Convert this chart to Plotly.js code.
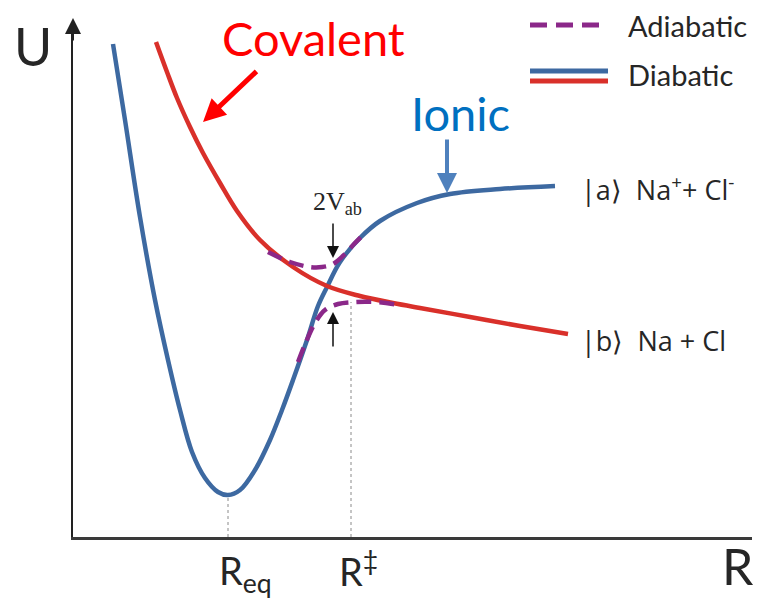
<!DOCTYPE html>
<html>
<head>
<meta charset="utf-8">
<script src="https://cdn.plot.ly/plotly-3.0.1.min.js"></script>
<style>
  html, body { margin: 0; padding: 0; background: #ffffff; }
  #chart { width: 759px; height: 599px; }
</style>
</head>
<body>
<div id="chart"></div>
<script>
// Potential energy curves for NaCl (schematic units: R along x, U along y)

// Ionic (diabatic |a>) curve
const ionicR = [0.40, 0.52, 0.67, 0.82, 0.95, 1.07, 1.19, 1.32, 1.45, 1.55, 1.67, 1.82, 1.97, 2.09, 2.20, 2.34, 2.45, 2.54, 2.67, 2.87, 3.07, 3.44, 3.77, 4.27, 4.82];
const ionicU = [4.93, 4.17, 3.20, 2.37, 1.77, 1.27, 0.85, 0.59, 0.45, 0.42, 0.47, 0.67, 0.97, 1.27, 1.57, 1.97, 2.31, 2.50, 2.75, 2.99, 3.16, 3.34, 3.43, 3.48, 3.51];

// Covalent (diabatic |b>) curve
const covalentR = [0.83, 0.94, 1.04, 1.17, 1.30, 1.47, 1.64, 1.87, 2.20, 2.54, 2.87, 3.20, 3.47, 3.97, 4.47, 4.95];
const covalentU = [4.95, 4.65, 4.39, 4.10, 3.84, 3.54, 3.26, 2.97, 2.70, 2.51, 2.41, 2.34, 2.29, 2.20, 2.11, 2.03];

// Adiabatic curves around the avoided crossing
const upperR = [1.95, 2.17, 2.37, 2.49, 2.60, 2.72, 2.81, 2.89];
const upperU = [2.85, 2.75, 2.70, 2.70, 2.73, 2.83, 2.93, 3.01];
const lowerR = [2.25, 2.33, 2.42, 2.52, 2.65, 2.82, 3.02, 3.27];
const lowerU = [1.75, 1.95, 2.14, 2.27, 2.33, 2.35, 2.35, 2.32];

// Characteristic distances
const rEq = 1.55;          // equilibrium separation (ionic minimum)
const rEqU = 0.42;         // ionic minimum energy
const rCross = 2.78;       // crossing separation R‡
const rCrossU = 2.35;      // lower adiabatic energy at R‡

// Splitting 2V_ab marked at this separation
const gapR = 2.60;
const gapTop = 2.79;
const gapBottom = 2.25;

const BLUE = '#3d69a1';
const RED = '#d9302a';
const PURPLE = '#8b2889';
const TXT = '#262626';
const SANS = 'Lato, "Open Sans", sans-serif';
const WIDE = '"Open Sans", Lato, sans-serif';

const traces = [
  { x: ionicR, y: ionicU, mode: 'lines', line: { color: BLUE, width: 4.5, shape: 'spline' }, hoverinfo: 'skip' },
  { x: covalentR, y: covalentU, mode: 'lines', line: { color: RED, width: 4.5, shape: 'spline' }, hoverinfo: 'skip' },
  { x: upperR, y: upperU, mode: 'lines', line: { color: PURPLE, width: 4.5, dash: '15px,8px', shape: 'spline' }, hoverinfo: 'skip' },
  { x: lowerR, y: lowerU, mode: 'lines', line: { color: PURPLE, width: 4.5, dash: '15px,8px', shape: 'spline' }, hoverinfo: 'skip' },
  { x: [rEq, rEq], y: [0, rEqU], mode: 'lines', line: { color: '#8a8a8a', width: 1, dash: 'dot' }, hoverinfo: 'skip' },
  { x: [rCross, rCross], y: [0, rCrossU], mode: 'lines', line: { color: '#8a8a8a', width: 1, dash: 'dot' }, hoverinfo: 'skip' }
];

function arrow(x, y, ax, ay, color, width, size) {
  return {
    x: x, y: y, ax: ax, ay: ay, xref: 'x', yref: 'y', axref: 'x', ayref: 'y',
    text: '', showarrow: true, arrowhead: 2, arrowsize: size, arrowwidth: width, arrowcolor: color
  };
}

function label(text, x, y, size, color, xanchor, family, ref, yanchor) {
  return {
    x: x, y: y, xref: ref || 'x', yref: ref === 'paper' ? 'paper' : 'y', text: text, showarrow: false,
    xanchor: xanchor || 'center', yanchor: yanchor || 'middle', borderpad: 0,
    font: { family: family || SANS, size: size, color: color }
  };
}

const annotations = [
  // vertical axis arrowhead
  arrow(0, 5.19, 0, 4.95, '#222222', 2, 1.6),
  // axis names (placed in paper space, outside the plotting area)
  label('U', -0.059, 0.953, 52, TXT, 'center', SANS, 'paper'),
  label('R', 1.004, -0.116, 50, TXT, 'right', SANS, 'paper', 'bottom'),
  label('R<sub>eq</sub>', 0.2135, -0.07, 38, TXT, 'left', SANS, 'paper'),
  label('R<sup>‡</sup>', 0.390, -0.062, 38, TXT, 'left', SANS, 'paper'),
  // curve names with pointers
  label('Covalent', 2.40, 4.99, 47, '#ff0000'),
  arrow(1.30, 4.15, 1.85, 4.67, '#ff0000', 5, 0.9),
  label('Ionic', 3.87, 4.24, 47, '#0070c0'),
  arrow(3.74, 3.44, 3.74, 3.99, '#4f81bd', 4, 1),
  // coupling gap
  label('2V<sub>ab</sub>', 2.64, 3.34, 26, TXT, 'center', '"Liberation Serif", serif'),
  arrow(gapR, gapTop, gapR, 3.15, '#111111', 1.5, 1.6),
  arrow(gapR, gapBottom, gapR, 1.89, '#111111', 1.5, 1.6),
  // asymptotic states
  label('|a⟩&nbsp;&nbsp;Na<sup>+</sup>+ Cl<sup>-</sup>', 5.07, 3.49, 27, TXT, 'left', WIDE),
  label('|b⟩&nbsp;&nbsp;Na + Cl', 5.07, 1.97, 27, TXT, 'left', WIDE),
  // key
  label('Adiabatic', 5.54, 5.12, 29, TXT, 'left'),
  label('Diabatic', 5.54, 4.63, 29, TXT, 'left')
];

const shapes = [
  { type: 'line', xref: 'x', yref: 'y', x0: 4.57, x1: 5.35, y0: 5.12, y1: 5.12, line: { color: PURPLE, width: 5, dash: '17px,9px' } },
  { type: 'line', xref: 'x', yref: 'y', x0: 4.57, x1: 5.35, y0: 4.66, y1: 4.66, line: { color: BLUE, width: 5 } },
  { type: 'line', xref: 'x', yref: 'y', x0: 4.57, x1: 5.35, y0: 4.56, y1: 4.56, line: { color: RED, width: 5 } }
];

const layout = {
  width: 759, height: 599,
  margin: { l: 73, r: 7, t: 22, b: 62 },
  paper_bgcolor: '#ffffff', plot_bgcolor: '#ffffff',
  showlegend: false,
  xaxis: {
    range: [0, 6.79], showgrid: false, zeroline: false, showticklabels: false, ticks: '',
    showline: true, linecolor: '#3a3a3a', linewidth: 3, fixedrange: true
  },
  yaxis: {
    range: [0, 5.15], showgrid: false, zeroline: false, showticklabels: false, ticks: '',
    showline: true, linecolor: '#222222', linewidth: 2, fixedrange: true
  },
  annotations: annotations,
  shapes: shapes
};

Plotly.newPlot('chart', traces, layout, { displayModeBar: false, staticPlot: true });
</script>
</body>
</html>
